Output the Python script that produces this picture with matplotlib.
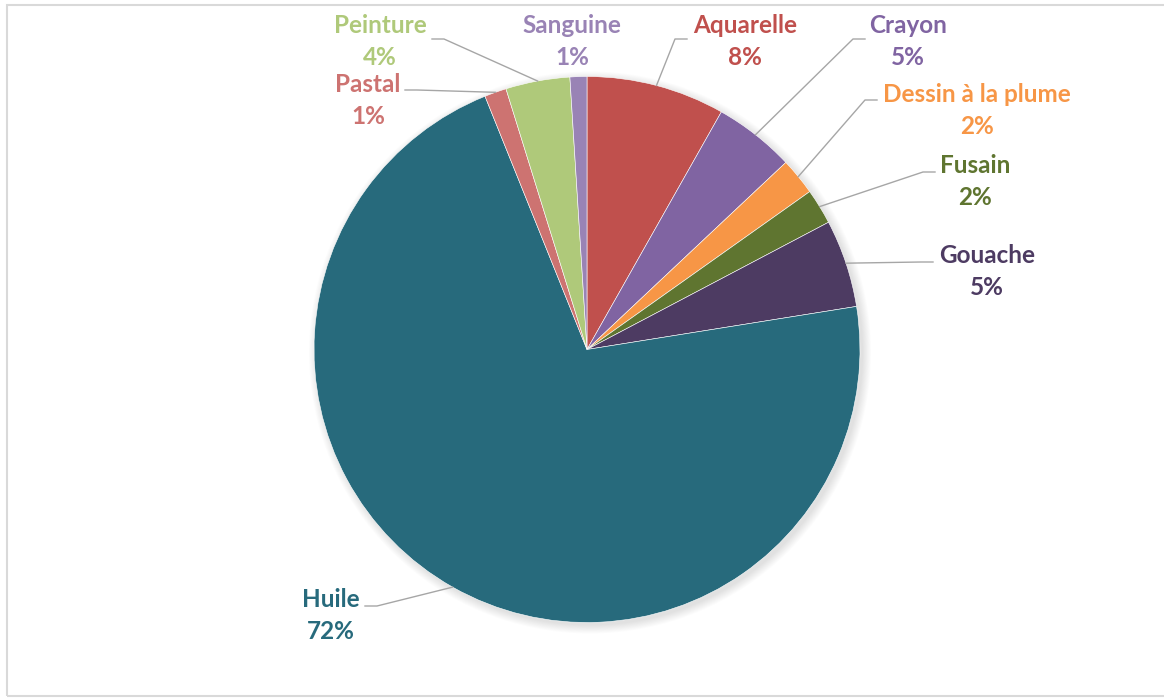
import matplotlib
matplotlib.use('Agg')
import matplotlib.pyplot as plt
from matplotlib.patches import Circle, Rectangle
import numpy as np

# données
categories = ['Aquarelle', 'Crayon', 'Dessin à la plume', 'Fusain', 'Gouache',
              'Huile', 'Pastal', 'Peinture', 'Sanguine']
parts = [8.2, 4.8, 2.2, 2.1, 5.2, 71.5, 1.3, 3.8, 1.0]
couleurs = ['#C0504D', '#8064A2', '#F79646', '#5F7530', '#4D3B62',
            '#276A7C', '#CD7371', '#AFC97A', '#9983B5']

W, H = 1164, 698

# position des étiquettes (pixels image) : x centre, ligne de base, départ du trait, coude
etiquettes = {
    'Aquarelle':         (745, 33, (687, 39), -12),
    'Crayon':            (908, 33, (865, 39), -12),
    'Dessin à la plume': (977, 102, (877, 100), -12),
    'Fusain':            (975, 173, (935, 172), -12),
    'Gouache':           (987, 263, (933, 262), -12),
    'Huile':             (331, 607, (365, 606), 12),
    'Pastal':            (368, 92, (405, 90), 12),
    'Peinture':          (380, 33, (432, 39), 12),
    'Sanguine':          (572, 33, None, 0),
}

plt.rcParams['font.family'] = ['Lato', 'DejaVu Sans']

fig = plt.figure(figsize=(W / 100, H / 100), dpi=100)
ax = fig.add_axes([0, 0, 1, 1])

centre = (587, H - 349.5)
rayon = 273

# ombre légère sous le camembert
for k in range(10):
    ax.add_patch(Circle((centre[0] + 3, centre[1] - 3), rayon + k * 0.9,
                        color='black', alpha=0.012, lw=0, zorder=0))

wedges, _ = ax.pie(parts, colors=couleurs, startangle=90, counterclock=False,
                   center=centre, radius=rayon,
                   wedgeprops=dict(linewidth=0.4, edgecolor='#FFFFFF'))
for w in wedges:
    w.set_zorder(2)

for w, nom, pct, col in zip(wedges, categories, parts, couleurs):
    tx, base, depart, coude = etiquettes[nom]
    ax.text(tx, H - base, nom, ha='center', va='baseline', fontsize=17.5,
            fontweight='bold', color=col, zorder=5)
    ax.text(tx, H - base - 32, f'{round(pct):d}%', ha='center', va='baseline',
            fontsize=17.5, fontweight='bold', color=col, zorder=5)
    if depart is None:
        continue
    mid = np.deg2rad((w.theta1 + w.theta2) / 2)
    bx = centre[0] + rayon * np.cos(mid)
    by = centre[1] + rayon * np.sin(mid)
    xs = [depart[0], depart[0] + coude, bx]
    ys = [H - depart[1], H - depart[1], by]
    ax.plot(xs, ys, color='#A6A6A6', lw=1.0, zorder=3)

# cadre du graphique
ax.add_patch(Rectangle((6.5, H - 695.5), 1170, 691, fill=False,
                       edgecolor='#D9D9D9', lw=1.5, zorder=1))

ax.set_xlim(0, W)
ax.set_ylim(0, H)
ax.set_aspect('auto')
ax.axis('off')

fig.savefig('out.png', dpi=100, facecolor='white')
